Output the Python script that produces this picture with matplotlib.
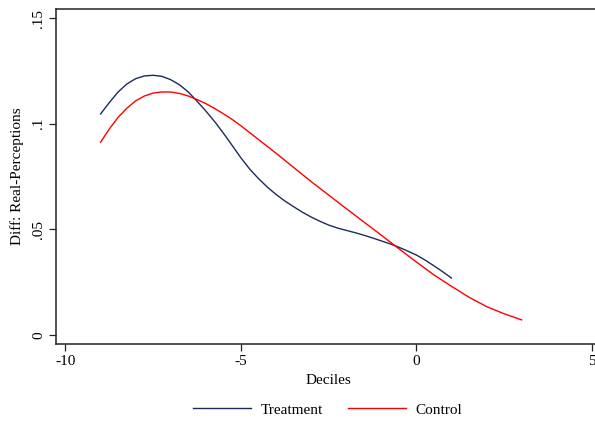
import numpy as np
import matplotlib
matplotlib.use("Agg")
import matplotlib.pyplot as plt

# decile difference grid and smoothed real-perception gaps
treat_x = [-9.0, -8.75, -8.5, -8.25, -8.0, -7.75, -7.5, -7.25, -7.0, -6.75,
           -6.5, -6.25, -6.0, -5.75, -5.5, -5.25, -5.0, -4.75, -4.5, -4.25,
           -4.0, -3.75, -3.5, -3.25, -3.0, -2.75, -2.5, -2.25, -2.0, -1.75,
           -1.5, -1.25, -1.0, -0.75, -0.5, -0.25, 0.0, 0.25, 0.5, 0.75, 1.0]
treat_y = [0.1046, 0.1100, 0.1150, 0.1188, 0.1213, 0.1226, 0.1229, 0.1224,
           0.1208, 0.1184, 0.1150, 0.1106, 0.1060, 0.1010, 0.0955, 0.0897,
           0.0838, 0.0785, 0.0740, 0.0700, 0.0665, 0.0634, 0.0607, 0.0581,
           0.0558, 0.0538, 0.0520, 0.0506, 0.0495, 0.0484, 0.0472, 0.0459,
           0.0445, 0.0431, 0.0415, 0.0397, 0.0378, 0.0354, 0.0327, 0.0299,
           0.0269]

ctrl_x = [-9.0, -8.75, -8.5, -8.25, -8.0, -7.75, -7.5, -7.25, -7.0, -6.75,
          -6.5, -6.25, -6.0, -5.75, -5.5, -5.25, -5.0, -4.5, -4.0, -3.5,
          -3.0, -2.5, -2.0, -1.5, -1.0, -0.5, 0.0, 0.5, 1.0, 1.5, 2.0, 2.5,
          3.0]
ctrl_y = [0.0912, 0.0975, 0.1030, 0.1073, 0.1108, 0.1131, 0.1145, 0.1150,
          0.1150, 0.1143, 0.1131, 0.1114, 0.1095, 0.1072, 0.1047, 0.1020,
          0.0990, 0.0925, 0.0860, 0.0793, 0.0726, 0.0662, 0.0598, 0.0535,
          0.0472, 0.0408, 0.0345, 0.0284, 0.0230, 0.0178, 0.0134, 0.0100,
          0.0071]

x_ticks = [-10, -5, 0, 5]
x_labels = ["-10", "-5", "0", "5"]
y_ticks = [0, 0.05, 0.10, 0.15]
y_labels = ["0", ".05", ".1", ".15"]

plt.rcParams["font.family"] = ["Liberation Serif", "DejaVu Serif"]
plt.rcParams["font.size"] = 11

fig = plt.figure(figsize=(5.95, 4.23), dpi=100)
ax = fig.add_axes([0.0941, 0.1868, 0.916, 0.792])

ax.plot(treat_x, treat_y, color="#1c2b5a", lw=1.0, label="Treatment")
ax.plot(ctrl_x, ctrl_y, color="#ff0000", lw=1.0, label="Control")

ax.set_xlim(-10.27, 5.26)
ax.set_ylim(-0.0043, 0.1543)
ax.set_xticks(x_ticks)
ax.set_xticklabels(x_labels)
ax.set_yticks(y_ticks)
ax.set_yticklabels(y_labels, rotation=90, va="center")
ax.tick_params(axis="both", length=5, width=0.9, color="#222222", pad=3)

ax.spines["right"].set_visible(False)
for s in ["left", "bottom", "top"]:
    ax.spines[s].set_linewidth(1.1)
    ax.spines[s].set_color("#222222")

ax.set_xlabel("Deciles", labelpad=4)
ax.set_ylabel("Diff: Real-Perceptions", labelpad=6)

fig.legend(loc="center", bbox_to_anchor=(0.551, 0.031), ncol=2, frameon=False,
           handlelength=3.8, handletextpad=0.65, columnspacing=1.6)

fig.savefig("out.png", dpi=100, facecolor="white")
